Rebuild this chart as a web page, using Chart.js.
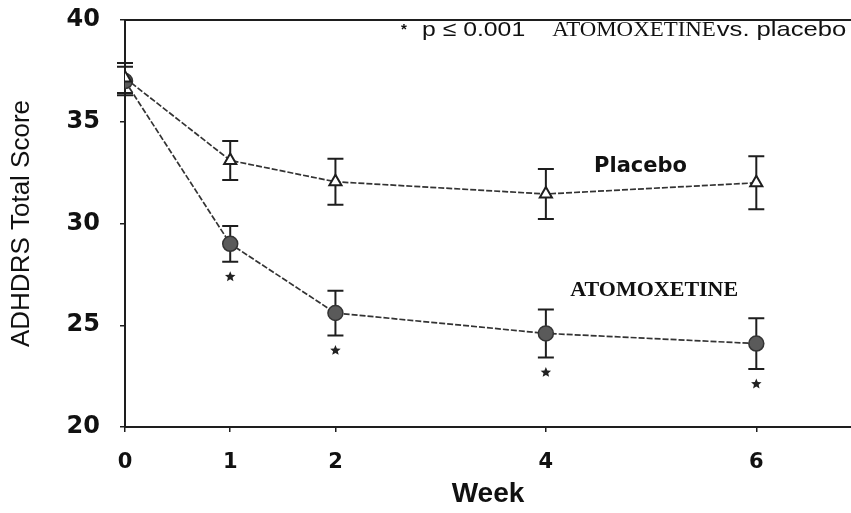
<!DOCTYPE html>
<html>
<head>
<meta charset="utf-8">
<script src="https://cdn.jsdelivr.net/npm/chart.js@4"></script>
<style>
  html, body { margin: 0; padding: 0; background: #fff; }
  #wrap { width: 851px; height: 513px; position: relative; }
</style>
</head>
<body>
<div id="wrap"><canvas id="chart"></canvas></div>
<script>
'use strict';
// values
const weeks = [0, 1, 2, 4, 6];
const weekTicks = [0, 1, 2, 4, 6];
const scoreTicks = [20, 25, 30, 35, 40];
const placebo = [37.15, 33.1, 32.05, 31.45, 32.0];
const placeboErr = [0.74, 0.96, 1.13, 1.23, 1.3];
const atomox = [37.0, 29.0, 25.6, 24.6, 24.1];
const atomoxErr = [0.7, 0.88, 1.1, 1.18, 1.25];
const signif = [false, true, true, true, true];

const INK = '#1e1e1e';
const pts = (ys) => weeks.map((w, i) => ({ x: w, y: ys[i] }));

// draw text with a horizontal stretch (the scan is wider than tall)
function wideText(ctx, txt, x, y, font, sx) {
  ctx.save();
  ctx.font = font;
  ctx.translate(x, y); ctx.scale(sx, 1);
  ctx.fillText(txt, 0, 0);
  const w = ctx.measureText(txt).width * sx;
  ctx.restore();
  return w;
}

function star(ctx, cx, cy, r) {
  ctx.beginPath();
  for (let k = 0; k < 10; k++) {
    const a = -Math.PI / 2 + k * Math.PI / 5, rr = k % 2 ? r * 0.45 : r;
    ctx.lineTo(cx + rr * Math.cos(a), cy + rr * Math.sin(a));
  }
  ctx.closePath(); ctx.fill();
}

const errorBars = {
  id: 'errorBars',
  beforeDatasetsDraw(chart) {
    const { ctx, scales: { x, y } } = chart;
    ctx.save();
    ctx.strokeStyle = INK; ctx.lineWidth = 2;
    [[placebo, placeboErr], [atomox, atomoxErr]].forEach(([vals, errs]) => {
      vals.forEach((v, i) => {
        const px = x.getPixelForValue(weeks[i]);
        const top = y.getPixelForValue(v + errs[i]), bot = y.getPixelForValue(v - errs[i]);
        ctx.beginPath();
        ctx.moveTo(px, top); ctx.lineTo(px, bot);
        ctx.moveTo(px - 8, top); ctx.lineTo(px + 8, top);
        ctx.moveTo(px - 8, bot); ctx.lineTo(px + 8, bot);
        ctx.stroke();
      });
    });
    ctx.restore();
  },
  afterDraw(chart) {
    const { ctx, chartArea: a, scales: { x, y } } = chart;
    ctx.save();
    // top frame line
    ctx.strokeStyle = INK; ctx.lineWidth = 2;
    ctx.beginPath(); ctx.moveTo(a.left, a.top); ctx.lineTo(a.right, a.top); ctx.stroke();

    // significance stars under atomoxetine bars
    ctx.fillStyle = '#222';
    atomox.forEach((v, i) => {
      if (!signif[i]) return;
      const px = x.getPixelForValue(weeks[i]);
      star(ctx, px, y.getPixelForValue(v - atomoxErr[i]) + 15, 5.5);
    });

    // series labels
    ctx.fillStyle = '#111';
    ctx.textAlign = 'center'; ctx.textBaseline = 'middle';
    ctx.font = 'bold 21px "DejaVu Sans"';
    ctx.fillText('Placebo', x.getPixelForValue(4.9), y.getPixelForValue(32.8));
    ctx.font = 'bold 22px "Liberation Serif"';
    ctx.fillText('ATOMOXETINE', x.getPixelForValue(5.03), y.getPixelForValue(26.7));

    // note in the top right
    ctx.textAlign = 'left'; ctx.textBaseline = 'alphabetic';
    const base = a.top + 16;
    let cx = a.left + 276;
    wideText(ctx, '*', cx, base - 2, 'bold 15px "Liberation Sans"', 1);
    cx += 21;
    cx += wideText(ctx, 'p \u2264 0.001', cx, base, '21px "Liberation Sans"', 1.18);
    cx += 27;
    cx += wideText(ctx, 'ATOMOXETINE', cx, base, '21px "Liberation Serif"', 1.09);
    cx += 1;
    wideText(ctx, 'vs. placebo', cx, base, '21px "Liberation Sans"', 1.22);
    ctx.restore();
  }
};

new Chart(document.getElementById('chart'), {
  type: 'line',
  data: {
    datasets: [
      { label: 'Placebo', data: pts(placebo), borderColor: '#333', borderWidth: 1.7,
        borderDash: [6, 2], pointStyle: 'triangle', pointRadius: 7, pointBorderWidth: 2,
        pointBorderColor: INK, pointBackgroundColor: '#fff', tension: 0 },
      { label: 'ATOMOXETINE', data: pts(atomox), borderColor: '#333', borderWidth: 1.7,
        borderDash: [6, 2], pointStyle: 'circle', pointRadius: 7.5, pointBorderWidth: 1.5,
        pointBorderColor: '#333', pointBackgroundColor: '#5a5a5a', tension: 0 },
    ],
  },
  options: {
    responsive: true, maintainAspectRatio: false, animation: false,
    layout: { autoPadding: false, padding: { top: 20, right: 0, left: 0, bottom: 0 } },
    plugins: { legend: { display: false }, tooltip: { enabled: false } },
    scales: {
      x: {
        type: 'linear', min: 0, max: 6.9,
        afterBuildTicks: (s) => { s.ticks = weekTicks.map((v) => ({ value: v })); },
        afterFit: (s) => { s.height = 86; s.paddingLeft = 0; s.paddingRight = 0; },
        grid: { drawOnChartArea: false, tickLength: 5, color: INK, lineWidth: 1.5 },
        border: { color: INK, width: 2 },
        ticks: { color: '#111', padding: 18, font: { family: 'DejaVu Sans', weight: 'bold', size: 21 } },
        title: { display: true, text: 'Week', color: '#111', padding: { top: 0, bottom: 2 },
          font: { family: 'Liberation Sans', weight: 'bold', size: 28 } },
      },
      y: {
        min: 20, max: 40,
        afterBuildTicks: (s) => { s.ticks = scoreTicks.map((v) => ({ value: v })); },
        afterFit: (s) => { s.width = 125; s.paddingTop = 0; s.paddingBottom = 0; },
        grid: { drawOnChartArea: false, tickLength: 5, color: INK, lineWidth: 1.5 },
        border: { color: INK, width: 2 },
        ticks: { color: '#111', padding: 20, font: { family: 'DejaVu Sans', weight: 'bold', size: 24 } },
        title: { display: true, text: 'ADHDRS Total Score', color: '#111', padding: { top: 6, bottom: 0 },
          font: { family: 'Liberation Sans', size: 26 } },
      },
    },
  },
  plugins: [errorBars],
});
</script>
</body>
</html>
